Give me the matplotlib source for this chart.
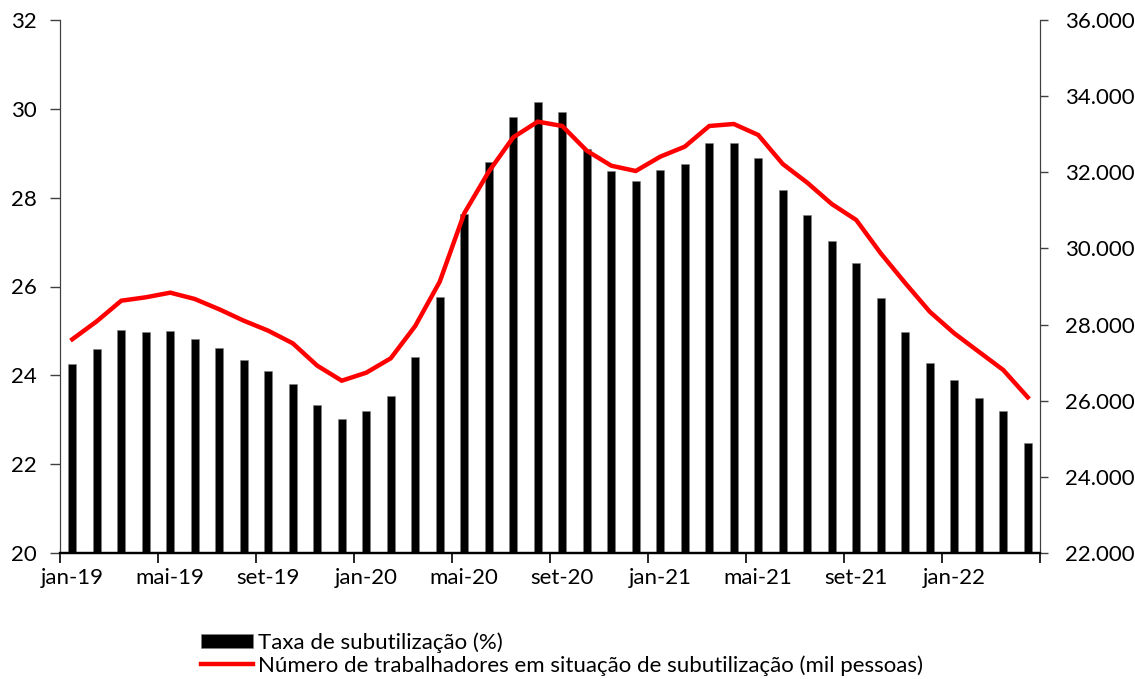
import matplotlib
matplotlib.use("Agg")
import matplotlib.pyplot as plt
from matplotlib.ticker import FuncFormatter, FixedLocator
import numpy as np

plt.rcParams['font.family'] = ['Lato', 'DejaVu Sans']

meses = ['jan', 'fev', 'mar', 'abr', 'mai', 'jun', 'jul', 'ago', 'set', 'out', 'nov', 'dez']
periodos = [f"{m}-{a}" for a in ['19', '20', '21'] for m in meses] + \
           [f"{m}-22" for m in meses[:4]]

# Taxa de subutilização da força de trabalho (%)
taxa = [24.26, 24.6, 25.01, 24.98, 25.0, 24.82, 24.61, 24.35, 24.09, 23.8,
        23.33, 23.02, 23.2, 23.53, 24.42, 25.76, 27.63, 28.8, 29.81, 30.16,
        29.92, 29.1, 28.6, 28.38, 28.62, 28.76, 29.22, 29.22, 28.9, 28.18,
        27.6, 27.03, 26.52, 25.73, 24.98, 24.28, 23.9, 23.5, 23.19, 22.48]

# Pessoas subutilizadas (mil pessoas)
trabalhadores = [27613, 28086, 28627, 28716, 28838, 28672, 28401, 28102, 27839, 27508,
                 26920, 26526, 26736, 27114, 27963, 29127, 30923, 32016, 32919, 33330,
                 33216, 32567, 32173, 32034, 32410, 32673, 33216, 33269, 32980, 32218,
                 31727, 31167, 30747, 29872, 29090, 28338, 27771, 27288, 26807, 26090]

FS = 16

fig = plt.figure(figsize=(11.35, 6.79), dpi=100)
ax = fig.add_axes([60 / 1135, 1 - 553 / 679, 980 / 1135, 533 / 679])
ax2 = ax.twinx()

x = np.arange(len(periodos))
barras = ax.bar(x, taxa, width=0.34, color='black', edgecolor='#7f7f7f',
                linewidth=0.4, label='Taxa de subutilização (%)', zorder=2)
linha, = ax2.plot(x, trabalhadores, color='#ff0000', linewidth=3.2,
                  solid_joinstyle='miter',
                  label='Número de trabalhadores em situação de subutilização (mil pessoas)')

ax.set_xlim(-0.5, len(periodos) - 0.5)
ax.set_ylim(20, 32)
ax.set_yticks(np.arange(20, 33, 2))
ax2.set_ylim(22000, 36000)
ax2.set_yticks(np.arange(22000, 36001, 2000))
ax2.yaxis.set_major_formatter(FuncFormatter(lambda v, p: f"{int(v):,}".replace(',', '.')))

# Major ticks on the month boundaries, labels centred on every 4th month
ax.xaxis.set_major_locator(FixedLocator(np.arange(-0.5, len(periodos), 4)))
ax.xaxis.set_minor_locator(FixedLocator(x[::4]))
ax.set_xticklabels([])
ax.set_xticklabels([periodos[i] for i in x[::4]], minor=True)
ax.tick_params(axis='x', which='major', direction='out', length=7, width=1.2, color='black')
ax.tick_params(axis='x', which='minor', length=0, pad=11, labelsize=FS)
ax.tick_params(axis='y', direction='out', length=7, width=1, color='#404040',
               pad=10, labelsize=FS)
ax2.tick_params(axis='y', direction='out', length=6, width=1, color='#404040',
                pad=12, labelsize=FS)

for a in (ax, ax2):
    a.spines['top'].set_visible(False)
    a.spines['left'].set_color('#404040')
    a.spines['right'].set_color('#404040')
    a.spines['bottom'].set_color('black')
    a.spines['bottom'].set_linewidth(1.6)

fig.legend(handles=[barras, linha], loc='upper left',
           bbox_to_anchor=(201 / 1135, 1 - 632 / 679), frameon=False,
           fontsize=FS, handlelength=2.34, handleheight=0.63, handletextpad=0.23,
           labelspacing=0.12, borderpad=0, borderaxespad=0)

fig.savefig('out.png', dpi=100)
